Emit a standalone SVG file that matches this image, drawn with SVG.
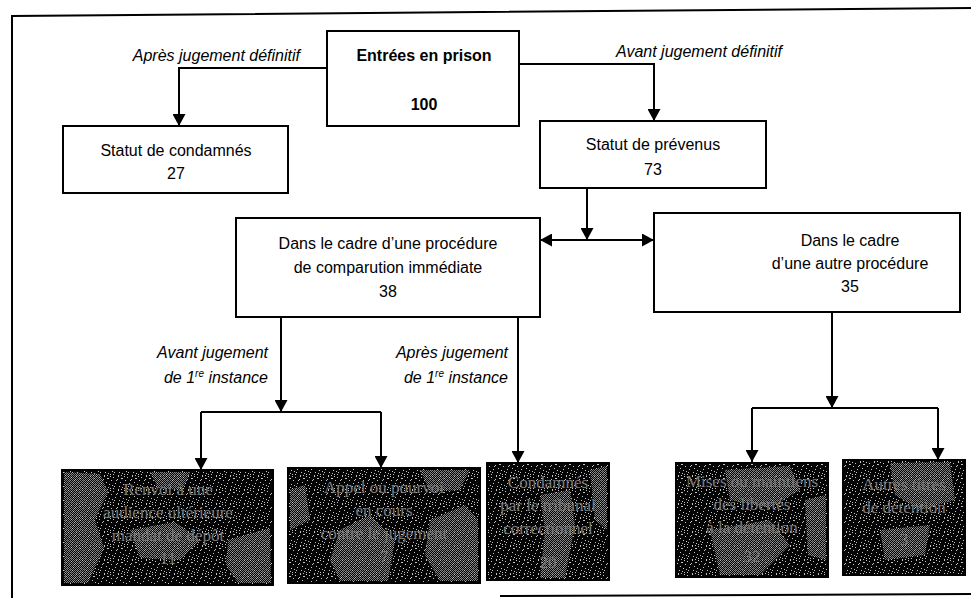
<svg xmlns="http://www.w3.org/2000/svg" width="971" height="598" viewBox="0 0 971 598">
<style>
  .box { fill: #fff; stroke: #000; stroke-width: 2; }
  .dark { stroke: #000; stroke-width: 2; }
  .t { font-family: "Liberation Sans", Arial, sans-serif; font-size: 16px; fill: #000; text-anchor: middle; }
  .b { font-weight: bold; }
  .lab { font-family: "Liberation Sans", Arial, sans-serif; font-size: 16px; font-style: italic; fill: #000; }
  .dt { font-family: "Liberation Serif", "Times New Roman", serif; font-size: 17px; fill: #7a7a7a; text-anchor: middle; }
  .ln { fill: none; stroke: #000; stroke-width: 2; }
  .arr { fill: none; stroke: #000; stroke-width: 2; marker-end: url(#ah); }
  .frame { fill: none; stroke: #000; stroke-width: 2; }
  .blot { fill: url(#chk); opacity: 0.7; }
</style>
<defs>
  <marker id="ah" markerUnits="userSpaceOnUse" markerWidth="13" markerHeight="13" refX="12" refY="6.5" orient="auto">
    <path d="M0,0 L12,6.5 L0,13 z" fill="#000"/>
  </marker>
  <marker id="ahs" markerUnits="userSpaceOnUse" markerWidth="13" markerHeight="13" refX="0" refY="6.5" orient="auto">
    <path d="M12,0 L0,6.5 L12,13 z" fill="#000"/>
  </marker>
  <pattern id="noise" width="14" height="14" patternUnits="userSpaceOnUse">
    <rect width="14" height="14" fill="#050505"/>
    <g fill="#c4c4c4">
      <rect x="1" y="1" width="1" height="1"/>
      <rect x="5" y="3" width="1" height="1"/>
      <rect x="9" y="2" width="2" height="1"/>
      <rect x="3" y="7" width="1" height="1"/>
      <rect x="11" y="8" width="1" height="1"/>
      <rect x="7" y="10" width="1" height="1"/>
      <rect x="1" y="12" width="1" height="1"/>
      <rect x="12" y="12" width="1" height="1"/>
      <rect x="4" y="4" width="1" height="1"/>
      <rect x="8" y="6" width="1" height="1"/>
      <rect x="13" y="4" width="1" height="1"/>
      <rect x="0" y="9" width="1" height="1"/>
      <rect x="6" y="13" width="1" height="1"/>
      <rect x="10" y="11" width="1" height="1"/>
      <rect x="2" y="10" width="1" height="1"/>
      <rect x="6" y="0" width="1" height="1"/>
      <rect x="12" y="0" width="1" height="1"/>
      <rect x="9" y="13" width="1" height="1"/>
    </g>
  </pattern>
  <pattern id="chk" width="2" height="2" patternUnits="userSpaceOnUse">
    <rect width="2" height="2" fill="#000"/>
    <rect width="1" height="1" fill="#b4b4b4"/>
    <rect x="1" y="1" width="1" height="1" fill="#b4b4b4"/>
  </pattern>
</defs>

<!-- outer frame -->
<g id="frame">
  <path class="frame" d="M12,598 V16 L971,8"/>
  <path class="frame" d="M500,596 L971,594"/>
</g>

<!-- connectors -->
<g id="connectors">
  <path class="arr" d="M327,68 H179 V126"/>
  <path class="arr" d="M519,64 H654 V121"/>
  <path class="arr" d="M587,188 V240"/>
  <path class="ln" d="M540,240 H654" marker-start="url(#ahs)" marker-end="url(#ah)"/>
  <path class="arr" d="M281,317 V412"/>
  <path class="ln" d="M201,412 H381"/>
  <path class="arr" d="M201,412 V470"/>
  <path class="arr" d="M381,412 V468"/>
  <path class="arr" d="M518,317 V463"/>
  <path class="arr" d="M832,312 V408"/>
  <path class="ln" d="M752,408 H938"/>
  <path class="arr" d="M752,408 V462"/>
  <path class="arr" d="M938,408 V460"/>
</g>

<!-- connector labels -->
<g id="labels">
  <text class="lab" x="300" y="61" text-anchor="end">Après jugement définitif</text>
  <text class="lab" x="616" y="57">Avant jugement définitif</text>
  <text class="lab" x="268" y="358" text-anchor="end">Avant jugement</text>
  <text class="lab" x="268" y="383" text-anchor="end">de 1<tspan font-size="10" dy="-6">re</tspan><tspan dy="6"> instance</tspan></text>
  <text class="lab" x="508" y="358" text-anchor="end">Après jugement</text>
  <text class="lab" x="508" y="383" text-anchor="end">de 1<tspan font-size="10" dy="-6">re</tspan><tspan dy="6"> instance</tspan></text>
</g>

<g id="entrees">
  <rect class="box" x="327" y="31" width="192" height="95"/>
  <text class="t b" x="424" y="61">Entrées en prison</text>
  <text class="t b" x="424" y="110">100</text>
</g>

<g id="condamnes">
  <rect class="box" x="63" y="126" width="225" height="67"/>
  <text class="t" x="176" y="156">Statut de condamnés</text>
  <text class="t" x="176" y="179">27</text>
</g>

<g id="prevenus">
  <rect class="box" x="540" y="121" width="226" height="67"/>
  <text class="t" x="653" y="150">Statut de prévenus</text>
  <text class="t" x="653" y="175">73</text>
</g>

<g id="comparution">
  <rect class="box" x="236" y="218" width="304" height="99"/>
  <text class="t" x="388" y="249">Dans le cadre d’une procédure</text>
  <text class="t" x="388" y="273">de comparution immédiate</text>
  <text class="t" x="388" y="297">38</text>
</g>

<g id="autre">
  <rect class="box" x="654" y="213" width="306" height="99"/>
  <text class="t" x="850" y="246">Dans le cadre</text>
  <text class="t" x="850" y="269">d’une autre procédure</text>
  <text class="t" x="850" y="292">35</text>
</g>

<g id="res1">
  <rect class="dark" x="62" y="470" width="211" height="115" fill="url(#noise)"/>
  <path class="blot" d="M64,472 L100,474 L108,492 L95,520 L104,548 L88,583 L64,583 Z"/>
  <path class="blot" d="M130,530 L175,522 L200,540 L180,560 L140,558 Z"/>
  <path class="blot" d="M228,540 L270,528 L271,583 L238,583 L226,565 Z"/>
  <path class="blot" d="M150,472 L190,472 L182,490 L158,488 Z"/>
  <text class="dt" x="168" y="495">Renvoi à une</text>
  <text class="dt" x="168" y="518">audience ultérieure</text>
  <text class="dt" x="168" y="541">mandat de dépôt</text>
  <text class="dt" x="168" y="564">11</text>
</g>

<g id="res2">
  <rect class="dark" x="288" y="468" width="192" height="115" fill="url(#noise)"/>
  <path class="blot" d="M340,530 L370,515 L395,540 L388,581 L340,581 L330,560 Z"/>
  <path class="blot" d="M430,520 L465,505 L478,520 L478,581 L440,581 L425,555 Z"/>
  <path class="blot" d="M290,490 L305,485 L310,520 L290,530 Z"/>
  <path class="blot" d="M420,470 L470,470 L460,490 L430,492 Z"/>
  <text class="dt" x="384" y="493">Appel ou pourvoi</text>
  <text class="dt" x="384" y="516">en cours</text>
  <text class="dt" x="384" y="539">contre le jugement</text>
  <text class="dt" x="384" y="562">7</text>
</g>

<g id="res3">
  <rect class="dark" x="487" y="463" width="122" height="117" fill="url(#noise)"/>
  <path class="blot" d="M540,495 L570,490 L575,525 L565,578 L540,578 L545,530 Z"/>
  <path class="blot" d="M590,470 L607,466 L607,530 L595,520 Z"/>
  <text class="dt" x="548" y="488">Condamnés</text>
  <text class="dt" x="548" y="511">par le tribunal</text>
  <text class="dt" x="548" y="534">correctionnel</text>
  <text class="dt" x="548" y="568">20</text>
</g>

<g id="res4">
  <rect class="dark" x="676" y="463" width="152" height="114" fill="url(#noise)"/>
  <path class="blot" d="M725,470 L790,466 L800,490 L770,508 L730,500 Z"/>
  <path class="blot" d="M710,530 L770,520 L790,545 L760,575 L720,575 Z"/>
  <path class="blot" d="M805,500 L826,495 L826,560 L808,555 Z"/>
  <text class="dt" x="752" y="487">Mises ou maintiens</text>
  <text class="dt" x="752" y="510">des libertés</text>
  <text class="dt" x="752" y="533">à la détention</text>
  <text class="dt" x="752" y="562">32</text>
</g>

<g id="res5">
  <rect class="dark" x="843" y="460" width="122" height="115" fill="url(#noise)"/>
  <path class="blot" d="M890,463 L950,462 L955,500 L920,510 L895,495 Z"/>
  <path class="blot" d="M880,530 L930,525 L925,555 L885,560 Z"/>
  <text class="dt" x="904" y="490">Autres titres</text>
  <text class="dt" x="904" y="513">de détention</text>
  <text class="dt" x="904" y="545">3</text>
</g>
</svg>
